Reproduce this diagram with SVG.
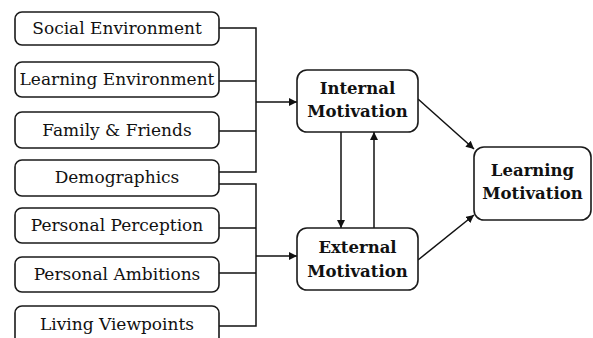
<svg xmlns="http://www.w3.org/2000/svg" width="593" height="338" viewBox="0 0 593 338">
<defs>
<style>
.box{fill:#fff;stroke:#1a1a1a;stroke-width:1.6}
.t{font-family:"DejaVu Serif",serif;font-size:17px;fill:#111;text-anchor:middle}
.b{font-family:"DejaVu Serif",serif;font-size:16.5px;font-weight:bold;fill:#111;text-anchor:middle}
.ln{fill:none;stroke:#111;stroke-width:1.5}
</style>
<marker id="ah" viewBox="0 0 10 10" refX="10" refY="5" markerWidth="8" markerHeight="8" markerUnits="userSpaceOnUse" orient="auto">
<path d="M0,0 L10,5 L0,10 z" fill="#111"/>
</marker>
</defs>
<rect width="593" height="338" fill="#fff"/>
<g id="connectors">
<polyline class="ln" points="219,28 256,28 256,172 219,172"/>
<line class="ln" x1="219" y1="81" x2="256" y2="81"/>
<line class="ln" x1="219" y1="131" x2="256" y2="131"/>
<line class="ln" x1="256" y1="102" x2="297" y2="102" marker-end="url(#ah)"/>
<polyline class="ln" points="219,184 256,184 256,326 219,326"/>
<line class="ln" x1="219" y1="228" x2="256" y2="228"/>
<line class="ln" x1="219" y1="273" x2="256" y2="273"/>
<line class="ln" x1="256" y1="256" x2="297" y2="256" marker-end="url(#ah)"/>
<line class="ln" x1="341" y1="132" x2="341" y2="228" marker-end="url(#ah)"/>
<line class="ln" x1="374" y1="228" x2="374" y2="132" marker-end="url(#ah)"/>
<line class="ln" x1="418" y1="99" x2="474" y2="149" marker-end="url(#ah)"/>
<line class="ln" x1="418" y1="260" x2="474" y2="215" marker-end="url(#ah)"/>
</g>
<g id="social"><rect class="box" x="15" y="12" width="204" height="33" rx="7"/><text class="t" x="117" y="34">Social Environment</text></g>
<g id="learningenv"><rect class="box" x="15" y="62" width="204" height="35" rx="7"/><text class="t" x="117" y="85">Learning Environment</text></g>
<g id="family"><rect class="box" x="15" y="112" width="204" height="36" rx="7"/><text class="t" x="117" y="136">Family &amp; Friends</text></g>
<g id="demographics"><rect class="box" x="15" y="160" width="204" height="36" rx="7"/><text class="t" x="117" y="183">Demographics</text></g>
<g id="perception"><rect class="box" x="15" y="208" width="204" height="35" rx="7"/><text class="t" x="117" y="231">Personal Perception</text></g>
<g id="ambitions"><rect class="box" x="15" y="257" width="204" height="35" rx="7"/><text class="t" x="117" y="280">Personal Ambitions</text></g>
<g id="viewpoints"><rect class="box" x="15" y="306" width="204" height="40" rx="7"/><text class="t" x="117" y="330">Living Viewpoints</text></g>
<g id="internal"><rect class="box" x="297" y="70" width="121" height="62" rx="10"/><text class="b" x="357.5" y="94">Internal</text><text class="b" x="357.5" y="117">Motivation</text></g>
<g id="external"><rect class="box" x="297" y="228" width="121" height="62" rx="10"/><text class="b" x="357.5" y="253">External</text><text class="b" x="357.5" y="277">Motivation</text></g>
<g id="learning"><rect class="box" x="474" y="147" width="117" height="73" rx="10"/><text class="b" x="532.5" y="176">Learning</text><text class="b" x="532.5" y="199">Motivation</text></g>
</svg>
